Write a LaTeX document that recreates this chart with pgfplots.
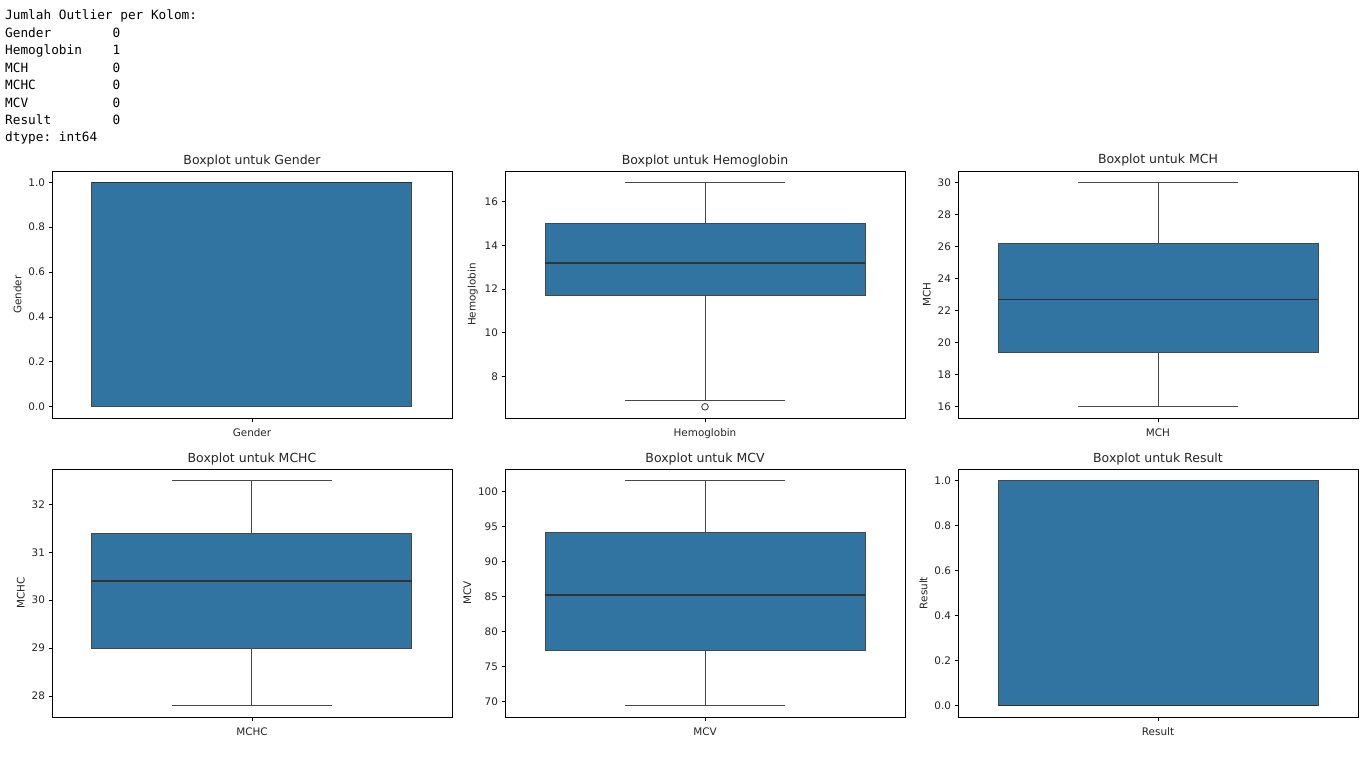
\documentclass[border=0pt]{standalone}
\usepackage{fontspec}
\setmainfont{DejaVu Sans}
\newfontfamily\monofont{DejaVu Sans Mono}
\usepackage{pgfplots}
\pgfplotsset{compat=1.18}
\usepgfplotslibrary{statistics}

\definecolor{boxblue}{RGB}{50,116,161}
\definecolor{edge}{RGB}{72,72,72}
\definecolor{medline}{RGB}{50,50,50}
\definecolor{txt}{RGB}{38,38,38}

\pgfplotsset{
  bp/.style={
    scale only axis, width=400pt, height=247pt,
    xmin=-0.5, xmax=0.5,
    xtick={0},
    tick align=outside, tick pos=left,
    major tick length=3.5pt,
    axis line style={black, line width=0.8pt},
    major tick style={black, line width=0.8pt},
    ticklabel style={font=\fontsize{10.4}{12}\selectfont, text=txt},
    xticklabel style={yshift=-4pt},
    label style={font=\fontsize{10.4}{12}\selectfont, text=txt},
    title style={font=\fontsize{12.5}{15}\selectfont, text=txt,
      at={(0.5,1)}, anchor=base, yshift=1pt},
    /pgf/number format/assume math mode=true,
    boxplot/draw direction=y,
    boxplot/box extend=0.8,
    boxplot/whisker extend=0.4,
    boxplot/every median/.style={draw=medline, line width=1.4pt},
    boxplot/every whisker/.style={draw=edge, line width=1pt},
  },
  bx/.style={fill=boxblue, draw=edge, line width=1pt, mark=o,
    mark size=3.3pt, mark options={draw=edge, fill=white, line width=0.9pt}},
  onedec/.style={yticklabel style={/pgf/number format/.cd, fixed, fixed zerofill, precision=1}},
}

\begin{document}
\frenchspacing
\begin{tikzpicture}
\path[use as bounding box, fill=white] (0pt,0pt) rectangle (1366pt,-768pt);

% printed output above the plots
\begin{scope}[every node/.style={anchor=base west, inner sep=0pt,
    font=\monofont\fontsize{12.75}{15}\selectfont, text=black}]
  \node at (5pt,-20pt) {Jumlah Outlier per Kolom:};
  \node at (5pt,-37.4pt) {Gender};      \node at (112.5pt,-37.4pt) {0};
  \node at (5pt,-54.8pt) {Hemoglobin};  \node at (112.5pt,-54.8pt) {1};
  \node at (5pt,-72.2pt) {MCH};         \node at (112.5pt,-72.2pt) {0};
  \node at (5pt,-89.6pt) {MCHC};        \node at (112.5pt,-89.6pt) {0};
  \node at (5pt,-107pt) {MCV};          \node at (112.5pt,-107pt) {0};
  \node at (5pt,-124.4pt) {Result};     \node at (112.5pt,-124.4pt) {0};
  \node at (5pt,-141.8pt) {dtype: int64};
\end{scope}

% row 1
\begin{axis}[bp, onedec, at={(52pt,-418pt)}, anchor=south west,
  ymin=-0.05, ymax=1.05, ytick={0,0.2,0.4,0.6,0.8,1.0},
  xticklabels={Gender}, ylabel={Gender}, title={Boxplot untuk Gender}]
  \addplot[bx, boxplot prepared={lower whisker=0, lower quartile=0,
    median=1, upper quartile=1, upper whisker=1, draw position=0}]
    coordinates {};
\end{axis}

\begin{axis}[bp, at={(505pt,-418pt)}, anchor=south west,
  ymin=6.085, ymax=17.415, ytick={8,10,12,14,16},
  xticklabels={Hemoglobin}, ylabel={Hemoglobin}, title={Boxplot untuk Hemoglobin}]
  \addplot[bx, boxplot prepared={lower whisker=6.9, lower quartile=11.7,
    median=13.2, upper quartile=15.0, upper whisker=16.9, draw position=0}]
    table[row sep=\\, y index=0] {6.6\\};
\end{axis}

\begin{axis}[bp, at={(958pt,-418pt)}, anchor=south west,
  ymin=15.3, ymax=30.7, ytick={16,18,20,22,24,26,28,30},
  xticklabels={MCH}, ylabel={MCH}, title={Boxplot untuk MCH}]
  \addplot[bx, boxplot prepared={lower whisker=16.0, lower quartile=19.4,
    median=22.7, upper quartile=26.2, upper whisker=30.0, draw position=0}]
    coordinates {};
\end{axis}

% row 2
\begin{axis}[bp, at={(52pt,-717pt)}, anchor=south west, height=248pt,
  ymin=27.565, ymax=32.735, ytick={28,29,30,31,32},
  xticklabels={MCHC}, ylabel={MCHC}, title={Boxplot untuk MCHC}]
  \addplot[bx, boxplot prepared={lower whisker=27.8, lower quartile=29.0,
    median=30.4, upper quartile=31.4, upper whisker=32.5, draw position=0}]
    coordinates {};
\end{axis}

\begin{axis}[bp, at={(505pt,-717pt)}, anchor=south west, height=248pt,
  ymin=67.8, ymax=103.2, ytick={70,75,80,85,90,95,100},
  xticklabels={MCV}, ylabel={MCV}, title={Boxplot untuk MCV}]
  \addplot[bx, boxplot prepared={lower whisker=69.4, lower quartile=77.3,
    median=85.2, upper quartile=94.1, upper whisker=101.5, draw position=0}]
    coordinates {};
\end{axis}

\begin{axis}[bp, onedec, at={(958pt,-717pt)}, anchor=south west, height=248pt,
  ymin=-0.05, ymax=1.05, ytick={0,0.2,0.4,0.6,0.8,1.0},
  xticklabels={Result}, ylabel={Result}, title={Boxplot untuk Result}]
  \addplot[bx, boxplot prepared={lower whisker=0, lower quartile=0,
    median=0, upper quartile=1, upper whisker=1, draw position=0}]
    coordinates {};
\end{axis}
\end{tikzpicture}
\end{document}
